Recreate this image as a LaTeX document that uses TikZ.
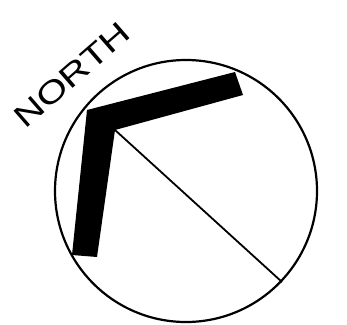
\documentclass[tikz,border=0pt]{standalone}
\usepackage{fontspec}
\setmainfont{Liberation Sans}
\usepackage{tikz}
\usetikzlibrary{calc}

\begin{document}
\begin{tikzpicture}[x=1pt, y=-1pt, line join=round]
  \useasboundingbox (0,0) rectangle (347,324);
  \coordinate (centre) at (186,191);
  \coordinate (outer) at (87,110);
  \coordinate (inner) at (115,130);
  \coordinate (rim) at (282,282);
  \draw[line width=2.2pt] (centre) circle (131);
  \fill (outer) -- (235,72) -- (243,95) -- (inner) -- (97,257) -- (72,255) -- cycle;
  \draw[line width=1.8pt] (inner) -- (rim);
  \node[rotate=41, xscale=1.3, font=\fontsize{31}{31}\selectfont, inner sep=0pt] (north) at (72,75) {NORTH};
\end{tikzpicture}
\end{document}
